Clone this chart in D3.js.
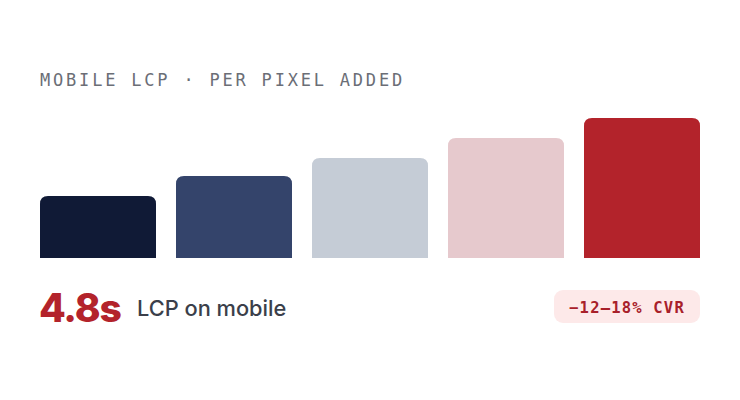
<!DOCTYPE html>
<html lang="en">
<head>
  <meta charset="UTF-8">
  <title>Mobile LCP per pixel added</title>
  <script src="https://d3js.org/d3.v7.min.js"></script>
  <style>
    body {
      margin: 0;
      background: #fff;
    }
    svg {
      display: block;
    }
  </style>
</head>
<body>
<svg width="740" height="400"></svg>

<script>
  // data
  const steps = ["s1", "s2", "s3", "s4", "s5"];
  const lcpValues = [62, 82, 100, 120, 140];
  const title = "MOBILE LCP \u00b7 PER PIXEL ADDED";
  const headline = "4.8s";
  const headlineLabel = "LCP on mobile";
  const badge = "\u221212\u201318% CVR";

  const svg = d3.select("svg");

  const x = d3.scaleBand()
    .domain(steps)
    .range([40, 700])
    .paddingInner(20 / 136)
    .paddingOuter(0);

  const y = d3.scaleLinear()
    .domain([0, 140])
    .range([258, 118]);

  const color = d3.scaleOrdinal()
    .domain(steps)
    .range(["#101a36", "#34446b", "#c5ccd6", "#e6c9cd", "#b3232b"]);

  // bar with rounded top corners only
  function topRounded(x0, y0, w, h, r) {
    return `M${x0},${y0 + h}V${y0 + r}Q${x0},${y0} ${x0 + r},${y0}` +
      `H${x0 + w - r}Q${x0 + w},${y0} ${x0 + w},${y0 + r}V${y0 + h}Z`;
  }

  svg.append("text")
    .attr("x", 40)
    .attr("y", 86)
    .attr("font-family", "'DejaVu Sans Mono', monospace")
    .attr("font-size", 17)
    .attr("letter-spacing", 2.8)
    .attr("fill", "#6b6e76")
    .text(title);

  svg.append("g")
    .selectAll("path")
    .data(steps)
    .join("path")
    .attr("fill", d => color(d))
    .attr("d", (d, i) => topRounded(x(d), y(lcpValues[i]), x.bandwidth(), y(0) - y(lcpValues[i]), 8));

  svg.append("text")
    .attr("x", 39)
    .attr("y", 322)
    .attr("font-family", "Inter, 'Liberation Sans', sans-serif")
    .attr("font-weight", 800)
    .attr("font-size", 39)
    .attr("letter-spacing", -1.2)
    .attr("fill", "#b3232b")
    .text(headline);

  svg.append("text")
    .attr("x", 137)
    .attr("y", 316)
    .attr("font-family", "Inter, 'Liberation Sans', sans-serif")
    .attr("font-weight", 500)
    .attr("font-size", 21.8)
    .attr("fill", "#3b3f4a")
    .text(headlineLabel);

  // badge
  const badgeG = svg.append("g");
  badgeG.append("rect")
    .attr("x", 554)
    .attr("y", 290)
    .attr("width", 146)
    .attr("height", 33)
    .attr("rx", 9)
    .attr("fill", "#fde9e9");
  badgeG.append("text")
    .attr("x", 627)
    .attr("y", 313)
    .attr("text-anchor", "middle")
    .attr("font-family", "'DejaVu Sans Mono', monospace")
    .attr("font-weight", 700)
    .attr("font-size", 15.5)
    .attr("letter-spacing", 1.2)
    .attr("fill", "#a8202a")
    .text(badge);
</script>

</body>
</html>
